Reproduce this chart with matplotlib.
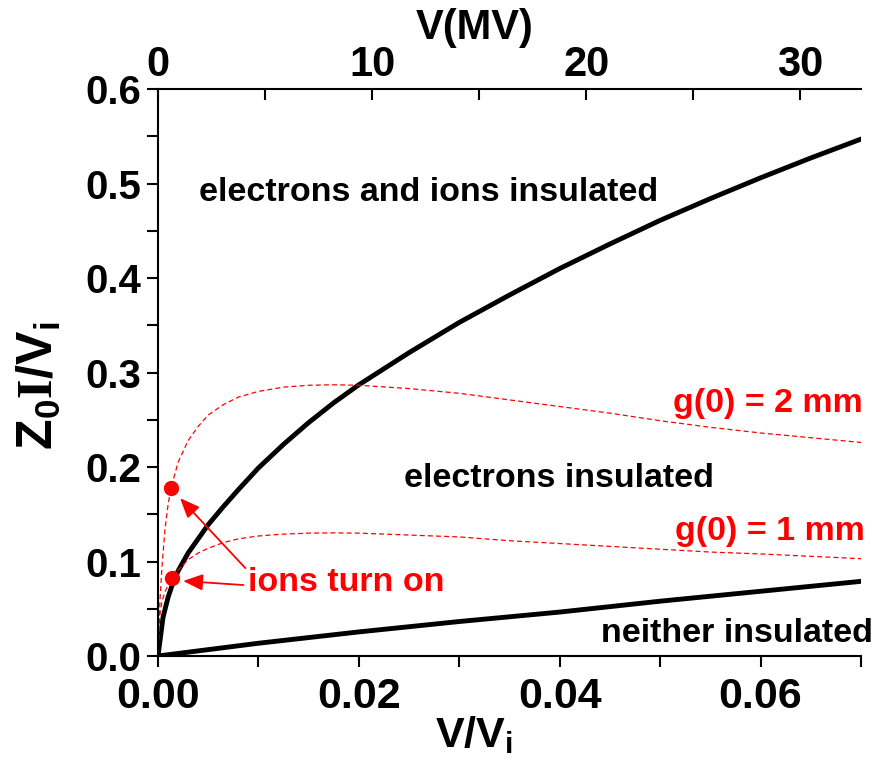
import numpy as np
import matplotlib
matplotlib.use("Agg")
import matplotlib.pyplot as plt
from matplotlib.ticker import FormatStrFormatter

plt.rcParams['font.family'] = ['Liberation Sans', 'DejaVu Sans']
plt.rcParams['font.weight'] = 'bold'
plt.rcParams['mathtext.fontset'] = 'custom'
plt.rcParams['mathtext.bf'] = 'Liberation Sans:bold'
plt.rcParams['mathtext.rm'] = 'Liberation Serif:bold'
plt.rcParams['mathtext.it'] = 'Liberation Sans:bold'

# ion voltage scale used for the top axis (MV)
V_ION_MV = 469.0

# tick positions
x_major = [0.0, 0.02, 0.04, 0.06]
x_minor = [0.01, 0.03, 0.05, 0.07]
y_major = [0.0, 0.1, 0.2, 0.3, 0.4, 0.5, 0.6]
y_minor = [0.05, 0.15, 0.25, 0.35, 0.45, 0.55]
mv_major = [0, 10, 20, 30]
mv_minor = [5, 15, 25]

# boundary: electrons + ions insulated / electrons insulated
upper_x = [0, 0.0005, 0.001, 0.0015, 0.002, 0.003, 0.004, 0.005, 0.0065, 0.008,
           0.01, 0.0125, 0.015, 0.0175, 0.02, 0.025, 0.03, 0.035, 0.04, 0.045,
           0.05, 0.055, 0.06, 0.065, 0.07]
upper_y = [0, 0.041, 0.062, 0.078, 0.090, 0.109, 0.124, 0.139, 0.158, 0.176,
           0.199, 0.224, 0.247, 0.268, 0.287, 0.321, 0.353, 0.382, 0.410, 0.436,
           0.461, 0.484, 0.506, 0.527, 0.547]

# boundary: electrons insulated / neither insulated
lower_x = [0, 0.01, 0.02, 0.03, 0.04, 0.05, 0.06, 0.07]
lower_y = [0, 0.0135, 0.0255, 0.0365, 0.0465, 0.058, 0.0685, 0.079]

# load lines for two initial gaps
g2_x = [0, 0.0001, 0.0002, 0.0004, 0.0007, 0.001, 0.0013, 0.002, 0.003, 0.004,
        0.005, 0.0065, 0.008, 0.01, 0.0125, 0.015, 0.0175, 0.02, 0.025, 0.03,
        0.035, 0.04, 0.045, 0.05, 0.055, 0.06, 0.065, 0.07]
g2_y = [0, 0.035, 0.06, 0.095, 0.135, 0.160, 0.178, 0.205, 0.228, 0.243,
        0.255, 0.266, 0.274, 0.280, 0.2845, 0.2865, 0.287, 0.2865, 0.283, 0.278,
        0.271, 0.264, 0.257, 0.249, 0.242, 0.236, 0.231, 0.226]

g1_x = [0, 0.0001, 0.0002, 0.0004, 0.0007, 0.001, 0.0014, 0.002, 0.003, 0.004,
        0.005, 0.0065, 0.008, 0.01, 0.0125, 0.015, 0.0175, 0.02, 0.025, 0.03,
        0.035, 0.04, 0.045, 0.05, 0.055, 0.06, 0.065, 0.07]
g1_y = [0, 0.03, 0.045, 0.058, 0.068, 0.075, 0.082, 0.091, 0.102, 0.109,
        0.114, 0.120, 0.124, 0.127, 0.129, 0.130, 0.1303, 0.130, 0.128, 0.126,
        0.122, 0.119, 0.116, 0.113, 0.110, 0.108, 0.1055, 0.103]

# points where ion emission starts
turn_on_x = [0.0013, 0.0014]
turn_on_y = [0.178, 0.083]

fig = plt.figure(figsize=(8.74, 7.62), dpi=100)
ax = fig.add_axes([0.1808, 0.1391, 0.8043, 0.7441])

ax.plot(upper_x, upper_y, color='black', lw=3.5, solid_joinstyle='round')
ax.plot(lower_x, lower_y, color='black', lw=3.5)
ax.plot(g2_x, g2_y, color='red', lw=0.9, linestyle=(0, (4, 2.5)))
ax.plot(g1_x, g1_y, color='red', lw=0.9, linestyle=(0, (4, 2.5)))
ax.plot(turn_on_x, turn_on_y, 'o', color='red', markersize=10, zorder=5)

ax.set_xlim(0, 0.07)
ax.set_ylim(0, 0.6)
ax.set_xticks(x_major)
ax.set_xticks(x_minor, minor=True)
ax.set_yticks(y_major)
ax.set_yticks(y_minor, minor=True)
ax.xaxis.set_major_formatter(FormatStrFormatter('%.2f'))
ax.yaxis.set_major_formatter(FormatStrFormatter('%.1f'))
ax.tick_params(axis='both', which='both', direction='out', length=8, width=1.5)
ax.tick_params(axis='x', labelsize=31, pad=7)
ax.tick_params(axis='y', labelsize=29, pad=4)
for lab in ax.get_xticklabels() + ax.get_yticklabels():
    lab.set_fontweight('bold')

ax.spines['right'].set_visible(False)
ax.spines['top'].set_visible(False)
ax.spines['left'].set_linewidth(1.5)
ax.spines['bottom'].set_linewidth(1.5)

ax.set_xlabel(r'$\mathbf{V/V_i}$', fontsize=31, labelpad=-2)
ax.xaxis.label.set_x(0.45)
ax.set_ylabel(r'$\mathbf{Z_0}\mathrm{I}\mathbf{/V_i}$', fontsize=36, labelpad=16)
ax.yaxis.label.set_y(0.476)

# top axis in MV
top = ax.secondary_xaxis('top', functions=(lambda x: x * V_ION_MV, lambda v: v / V_ION_MV))
top.set_xticks(mv_major)
top.set_xticks(mv_minor, minor=True)
top.tick_params(axis='x', which='both', direction='in', length=8, width=1.5,
                labelsize=30, pad=3)
for lab in top.get_xticklabels():
    lab.set_fontweight('bold')
top.spines['top'].set_linewidth(1.5)
top.set_xlabel('V(MV)', fontsize=30, fontweight='bold', labelpad=4)
top.xaxis.label.set_x(0.45)

# region labels
ax.text(0.0269, 0.481, 'electrons and ions insulated', fontsize=24.5,
        fontweight='bold', ha='center', va='baseline')
ax.text(0.0399, 0.179, 'electrons insulated', fontsize=24.5,
        fontweight='bold', ha='center', va='baseline')
ax.text(0.0576, 0.0151, 'neither insulated', fontsize=24.5,
        fontweight='bold', ha='center', va='baseline', clip_on=False)
ax.text(0.0607, 0.2585, 'g(0) = 2 mm', fontsize=24.5, color='red',
        fontweight='bold', ha='center', va='baseline')
ax.text(0.0609, 0.1228, 'g(0) = 1 mm', fontsize=24.5, color='red',
        fontweight='bold', ha='center', va='baseline')

# arrows to the turn-on points
arrow = dict(arrowstyle='-|>,head_length=0.6,head_width=0.25', color='red',
             lw=1.3, mutation_scale=20, shrinkA=0, shrinkB=0)
ax.annotate('', xy=(0.0022, 0.167), xytext=(0.0087, 0.093), arrowprops=arrow)
ax.annotate('', xy=(0.0025, 0.0794), xytext=(0.0085, 0.0751), arrowprops=arrow)
ax.text(0.0090, 0.078, 'ions turn on', fontsize=24.5, color='red',
        fontweight='bold', ha='left', va='center')

fig.savefig('out.png', dpi=100)
